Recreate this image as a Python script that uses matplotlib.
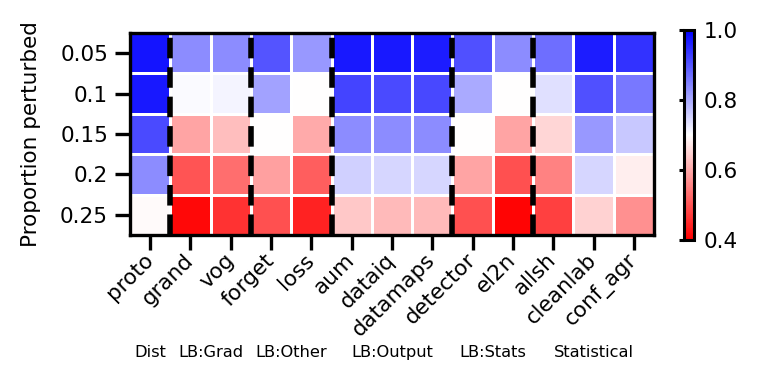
import numpy as np
import matplotlib
matplotlib.use("Agg")
import matplotlib.pyplot as plt
from matplotlib.transforms import blended_transform_factory

methods = ["proto", "grand", "vog", "forget", "loss", "aum", "dataiq", "datamaps",
           "detector", "el2n", "allsh", "cleanlab", "conf_agr"]
proportions = ["0.05", "0.1", "0.15", "0.2", "0.25"]

# one row per proportion perturbed
row_005 = [0.975, 0.835, 0.835, 0.900, 0.820, 0.970, 0.970, 0.965, 0.905, 0.835, 0.870, 0.965, 0.940]
row_010 = [0.970, 0.705, 0.712, 0.810, 0.700, 0.918, 0.912, 0.915, 0.800, 0.700, 0.736, 0.905, 0.859]
row_015 = [0.912, 0.594, 0.624, 0.698, 0.600, 0.835, 0.835, 0.835, 0.700, 0.594, 0.653, 0.820, 0.765]
row_020 = [0.835, 0.500, 0.530, 0.588, 0.512, 0.754, 0.747, 0.747, 0.594, 0.494, 0.553, 0.747, 0.680]
row_025 = [0.695, 0.410, 0.459, 0.494, 0.441, 0.635, 0.618, 0.618, 0.494, 0.406, 0.476, 0.647, 0.571]

groups = ["Dist", "LB:Grad", "LB:Other", "LB:Output", "LB:Stats", "Statistical"]
group_sizes = [1, 2, 2, 3, 2, 3]

vals = np.array([row_005, row_010, row_015, row_020, row_025])

fig = plt.figure(figsize=(7.62, 3.82), dpi=100)
ax = fig.add_axes([0.1706, 0.3848, 0.6877, 0.5288])
cax = fig.add_axes([0.8975, 0.372, 0.0131, 0.550])

mesh = ax.pcolormesh(vals, cmap="bwr_r", vmin=0.4, vmax=1.0,
                     edgecolors="white", linewidth=1.0)
ax.set_xlim(0, len(methods))
ax.set_ylim(len(proportions), 0)

# dashed separators between method groups
bounds = np.cumsum(group_sizes)[:-1]
for b in bounds:
    ax.axvline(b, color="black", ls="--", lw=4)

ax.set_xticks(np.arange(len(methods)) + 0.5)
ax.set_xticklabels(methods, rotation=45, ha="right", va="center",
                   rotation_mode="anchor")
ax.set_yticks(np.arange(len(proportions)) + 0.5)
ax.set_yticklabels(proportions)
ax.tick_params(length=10.8, width=2.4, pad=5, labelsize=15.5)
ax.set_ylabel("Proportion perturbed", fontsize=15.5, labelpad=14)
for sp in ax.spines.values():
    sp.set_linewidth(2.4)
    sp.set_zorder(5)

# group names under the rotated method labels
trans = blended_transform_factory(ax.transData, ax.transAxes)
starts = np.concatenate([[0], bounds])
for name, s, n in zip(groups, starts, group_sizes):
    ax.text(s + n / 2, -0.58, name, transform=trans, ha="center", va="center",
            fontsize=11.7)

cb = fig.colorbar(mesh, cax=cax, ticklocation="left")
cb.set_ticks([0.4, 0.6, 0.8, 1.0])
cb.outline.set_linewidth(2.2)
cax.tick_params(left=True, right=False, labelleft=False, labelright=True,
                length=3.6, width=2.2, pad=3.5, labelsize=15.5)

fig.savefig("out.png", dpi=100)
